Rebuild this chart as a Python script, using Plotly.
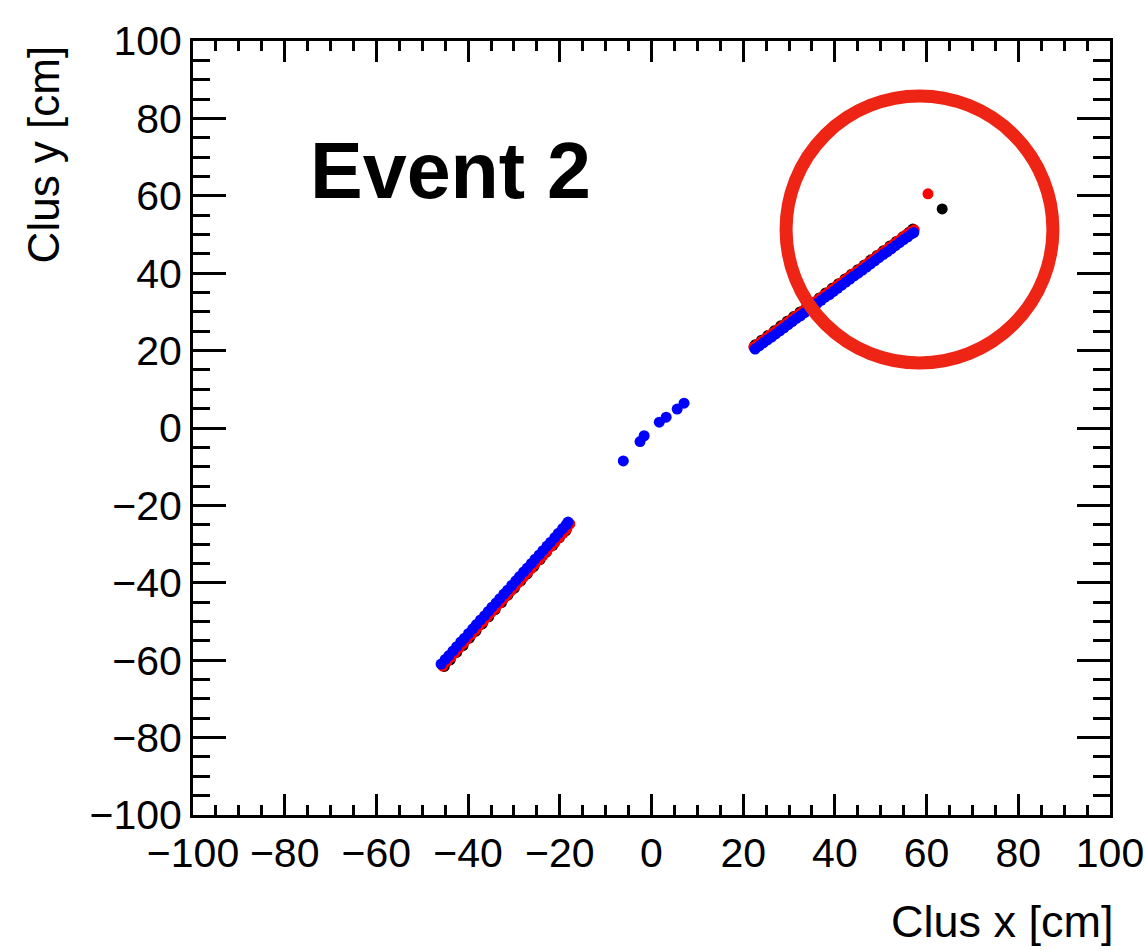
import plotly.graph_objects as go

# ---- data (cm) ----
blue_x = [-45.9, -45.0, -44.2, -43.3, -42.5, -41.6, -40.8, -39.9, -39.0, -38.2, -37.3, -36.4,
          -35.6, -34.8, -33.9, -33.1, -32.2, -31.4, -30.5, -29.6, -28.8, -27.9, -27.1, -26.2,
          -25.4, -24.5, -23.7, -22.8, -22.0, -21.1, -20.3, -19.4, -18.6, -18.2,
          -6.15, -2.5, -1.6, 1.7, 3.2, 5.6, 7.1,
          22.6, 23.5, 24.4, 25.3, 26.2, 27.1, 28.0, 28.9, 29.8, 30.7, 31.6, 32.5, 33.4, 34.3,
          35.2, 36.1, 37.0, 37.9, 38.8, 39.7, 40.6, 41.5, 42.4, 43.3, 44.2, 45.1, 46.0, 46.9,
          47.8, 48.7, 49.6, 50.5, 51.4, 52.3, 53.2, 54.1, 55.0, 55.9, 56.8, 57.2]
blue_y = [-61.0, -59.8, -58.8, -57.6, -56.5, -55.3, -54.3, -53.1, -51.9, -50.8, -49.6, -48.5,
          -47.4, -46.3, -45.2, -44.1, -42.9, -41.9, -40.7, -39.5, -38.4, -37.2, -36.2, -35.0,
          -33.9, -32.8, -31.7, -30.5, -29.5, -28.3, -27.2, -26.0, -25.0, -24.3,
          -8.5, -3.5, -2.0, 1.5, 2.8, 4.9, 6.4,
          20.4, 21.2, 22.0, 22.8, 23.5, 24.3, 25.1, 25.9, 26.7, 27.5, 28.3, 29.0, 29.8, 30.6,
          31.4, 32.2, 33.0, 33.8, 34.5, 35.3, 36.1, 36.9, 37.7, 38.5, 39.3, 40.0, 40.8, 41.6,
          42.4, 43.2, 44.0, 44.8, 45.5, 46.3, 47.1, 47.9, 48.7, 49.4, 50.2, 50.5]

red_x = [-45.5, -44.6, -43.7, -42.8, -41.9, -41.0, -40.2, -39.3, -38.4, -37.5, -36.7, -35.8,
         -34.9, -34.1, -33.2, -32.3, -31.5, -30.6, -29.7, -28.9, -28.0, -27.1, -26.3, -25.4,
         -24.5, -23.7, -22.8, -21.9, -21.1, -20.2, -19.3, -18.5, -17.8,
         22.3, 23.2, 24.1, 25.0, 25.9, 26.8, 27.7, 28.6, 29.5, 30.4, 31.3, 32.2, 33.1, 34.0,
         34.9, 35.8, 36.7, 37.6, 38.5, 39.4, 40.3, 41.2, 42.1, 43.0, 43.9, 44.8, 45.7, 46.6,
         47.5, 48.4, 49.3, 50.2, 51.1, 52.0, 52.9, 53.8, 54.7, 55.6, 56.5, 57.3,
         60.3]
red_y = [-61.5, -60.3, -59.2, -58.0, -56.8, -55.6, -54.5, -53.4, -52.2, -51.0, -50.0, -48.8,
         -47.6, -46.6, -45.4, -44.2, -43.2, -42.0, -40.8, -39.8, -38.6, -37.4, -36.4, -35.2,
         -34.0, -33.0, -31.8, -30.6, -29.6, -28.4, -27.2, -26.1, -24.8,
         20.9, 21.7, 22.5, 23.3, 24.1, 24.8, 25.6, 26.4, 27.2, 28.0, 28.8, 29.5, 30.3, 31.1,
         31.9, 32.7, 33.5, 34.3, 35.0, 35.8, 36.6, 37.4, 38.2, 39.0, 39.8, 40.5, 41.3, 42.1,
         42.9, 43.7, 44.5, 45.3, 46.0, 46.8, 47.6, 48.4, 49.2, 50.0, 50.7, 51.2,
         60.5]

black_x = [-45.2, -43.9, -42.5, -41.1, -39.7, -38.3, -36.9, -35.5, -34.1, -32.7, -31.3, -29.9,
           -28.5, -27.1, -25.7, -24.3, -22.9, -21.5, -20.1, -18.7,
           22.6, 24.0, 25.4, 26.8, 28.2, 29.6, 31.0, 32.4, 33.8, 35.2, 36.6, 38.0, 39.4, 40.8,
           42.2, 43.6, 45.0, 46.4, 47.8, 49.2, 50.6, 52.0, 53.4, 54.8, 56.2, 57.0,
           63.4]
black_y = [-61.6, -59.9, -58.0, -56.2, -54.3, -52.5, -50.6, -48.8, -46.9, -45.1, -43.2, -41.4,
           -39.5, -37.7, -35.8, -34.0, -32.1, -30.3, -28.4, -26.6,
           21.5, 22.7, 23.9, 25.1, 26.4, 27.6, 28.8, 30.0, 31.2, 32.4, 33.6, 34.9, 36.1, 37.3,
           38.5, 39.7, 40.9, 42.1, 43.4, 44.6, 45.8, 47.0, 48.2, 49.4, 50.6, 51.4,
           56.6]

x_ticks = [-100, -80, -60, -40, -20, 0, 20, 40, 60, 80, 100]
y_ticks = [-100, -80, -60, -40, -20, 0, 20, 40, 60, 80, 100]

# highlight circle (data coords: center and radii)
circ_cx, circ_cy, circ_rx, circ_ry = 58.45, 51.3, 29.1, 34.5

FONT = "Liberation Sans, Arial, Helvetica, sans-serif"

fig = go.Figure()
fig.add_trace(go.Scatter(x=black_x, y=black_y, mode="markers",
                         marker=dict(color="black", size=11), showlegend=False))
fig.add_trace(go.Scatter(x=red_x, y=red_y, mode="markers",
                         marker=dict(color="#ff0000", size=11), showlegend=False))
fig.add_trace(go.Scatter(x=blue_x, y=blue_y, mode="markers",
                         marker=dict(color="#0000ff", size=11), showlegend=False))

fig.add_shape(type="circle", xref="x", yref="y",
              x0=circ_cx - circ_rx, x1=circ_cx + circ_rx,
              y0=circ_cy - circ_ry, y1=circ_cy + circ_ry,
              line=dict(color="#ee2415", width=13))

axis_common = dict(
    showgrid=False, zeroline=False, showline=True, linecolor="black", linewidth=3,
    mirror="ticks", ticks="inside", tickcolor="black", tickwidth=3, automargin=False,
    tickfont=dict(family=FONT, size=41, color="black"),
)
fig.update_xaxes(range=[-100, 100], tickvals=x_ticks, ticklen=21,
                 minor=dict(dtick=5, ticks="inside", ticklen=10, tickcolor="black", tickwidth=3),
                 ticklabelstandoff=0, **axis_common)
fig.update_yaxes(range=[-100, 100], tickvals=y_ticks, ticklen=33,
                 minor=dict(dtick=5, ticks="inside", ticklen=17, tickcolor="black", tickwidth=3),
                 ticklabelstandoff=0, **axis_common)

fig.add_annotation(text="Clus x [cm]", xref="paper", yref="paper", x=1.006, y=-0.137,
                   xanchor="right", yanchor="middle", showarrow=False,
                   font=dict(family=FONT, size=45, color="black"))
fig.add_annotation(text="Clus y [cm]", xref="paper", yref="paper", x=-0.1635, y=0.997,
                   xanchor="center", yanchor="top", textangle=-90, showarrow=False,
                   font=dict(family=FONT, size=44, color="black"))
fig.add_annotation(text="<b>Event 2</b>", xref="paper", yref="paper", x=0.1254, y=0.833,
                   xanchor="left", yanchor="middle", showarrow=False,
                   font=dict(family=FONT, size=79, color="black"))

fig.update_layout(width=1145, height=951, margin=dict(l=193, r=35, t=41, b=136),
                  plot_bgcolor="white", paper_bgcolor="white")
fig.write_html("out.html")
